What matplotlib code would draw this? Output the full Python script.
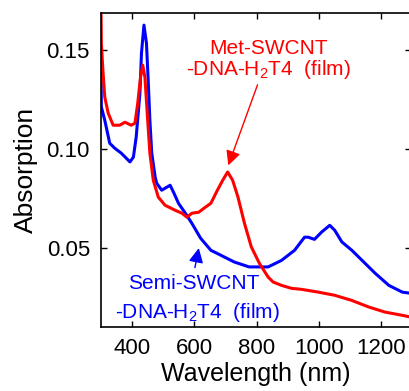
import matplotlib
matplotlib.use("Agg")
import matplotlib.pyplot as plt

plt.rcParams['font.family'] = ['Liberation Sans', 'DejaVu Sans']
plt.rcParams['mathtext.fontset'] = 'custom'
plt.rcParams['mathtext.rm'] = 'Liberation Sans'

# Semi-SWCNT-DNA-H2T4 (film)
semi_nm = [300, 301, 312, 328, 344, 365, 393, 404, 413, 425, 430, 438, 446, 452, 457, 463, 474,
           479, 495, 511, 522, 533, 549, 571, 592, 620, 653, 685, 728, 776, 837, 880, 922, 954,
           966, 986, 1009, 1035, 1051, 1074, 1106, 1139, 1181, 1225, 1268, 1295]
semi_abs = [0.1416, 0.1214, 0.1146, 0.1030, 0.1005, 0.0980, 0.0936, 0.0960, 0.1061, 0.1283,
            0.1485, 0.1626, 0.1535, 0.1333, 0.1146, 0.0980, 0.0859, 0.0828, 0.0793, 0.0808,
            0.0818, 0.0783, 0.0727, 0.0677, 0.0626, 0.0551, 0.0490, 0.0465, 0.0431, 0.0406,
            0.0406, 0.0439, 0.0490, 0.0556, 0.0556, 0.0545, 0.0582, 0.0616, 0.0591, 0.0532,
            0.0490, 0.0439, 0.0374, 0.0313, 0.0279, 0.0273]

# Met-SWCNT-DNA-H2T4 (film)
met_nm = [300, 301, 306, 312, 323, 339, 360, 377, 397, 409, 418, 427, 434, 441, 450, 457, 468,
          484, 506, 538, 560, 576, 592, 614, 635, 653, 674, 691, 707, 723, 740, 761, 783, 809,
          837, 853, 880, 912, 944, 998, 1051, 1106, 1160, 1213, 1268, 1295]
met_abs = [0.168, 0.1535, 0.1399, 0.1263, 0.1182, 0.1121, 0.1121, 0.1136, 0.1121, 0.1131,
           0.1232, 0.1364, 0.1424, 0.1364, 0.1146, 0.0980, 0.0843, 0.0758, 0.0717, 0.0692,
           0.0677, 0.0657, 0.0677, 0.0682, 0.0707, 0.0727, 0.0793, 0.0843, 0.0885, 0.0843,
           0.0759, 0.0626, 0.0507, 0.0424, 0.0355, 0.0330, 0.0313, 0.0298, 0.0293, 0.0279,
           0.0263, 0.0237, 0.0204, 0.0178, 0.0162, 0.0153]

xticks = [400, 600, 800, 1000, 1200]
yticks = [0.05, 0.10, 0.15]
ytick_labels = ["0.05", "0.10", "0.15"]

fig = plt.figure(figsize=(4.09, 3.91), dpi=100)
ax = fig.add_axes([0.247, 0.1637, 0.757, 0.803])

ax.plot(semi_nm, semi_abs, color='#0000ff', lw=2.2)
ax.plot(met_nm, met_abs, color='#ff0000', lw=2.2)

ax.set_xlim(300, 1295)
ax.set_ylim(0.0103, 0.1687)
ax.set_xticks(xticks)
ax.set_yticks(yticks)
ax.set_yticklabels(ytick_labels)
ax.tick_params(direction='in', top=True, right=True, labelsize=16, length=4, width=1, pad=8)
for s in ax.spines.values():
    s.set_linewidth(1.2)

ax.set_xlabel('Wavelength (nm)', fontsize=18, labelpad=2)
ax.set_ylabel('Absorption', fontsize=19, labelpad=6)

ax.text(838, 0.151, 'Met-SWCNT', color='#ff0000', fontsize=15, ha='center', va='center')
ax.text(838, 0.140, r'-DNA-H$_2$T4  (film)', color='#ff0000', fontsize=15, ha='center', va='center')
ax.annotate('', xy=(706, 0.0905), xytext=(806, 0.1338),
            arrowprops=dict(arrowstyle='-|>', color='#ff0000', lw=1, mutation_scale=22))

ax.text(597, 0.0323, 'Semi-SWCNT', color='#0000ff', fontsize=15, ha='center', va='center')
ax.text(611, 0.0177, r'-DNA-H$_2$T4  (film)', color='#0000ff', fontsize=15, ha='center', va='center')
ax.annotate('', xy=(616, 0.0515), xytext=(600, 0.0389),
            arrowprops=dict(arrowstyle='-|>', color='#0000ff', lw=1, mutation_scale=22))

fig.savefig('out.png', dpi=100)
